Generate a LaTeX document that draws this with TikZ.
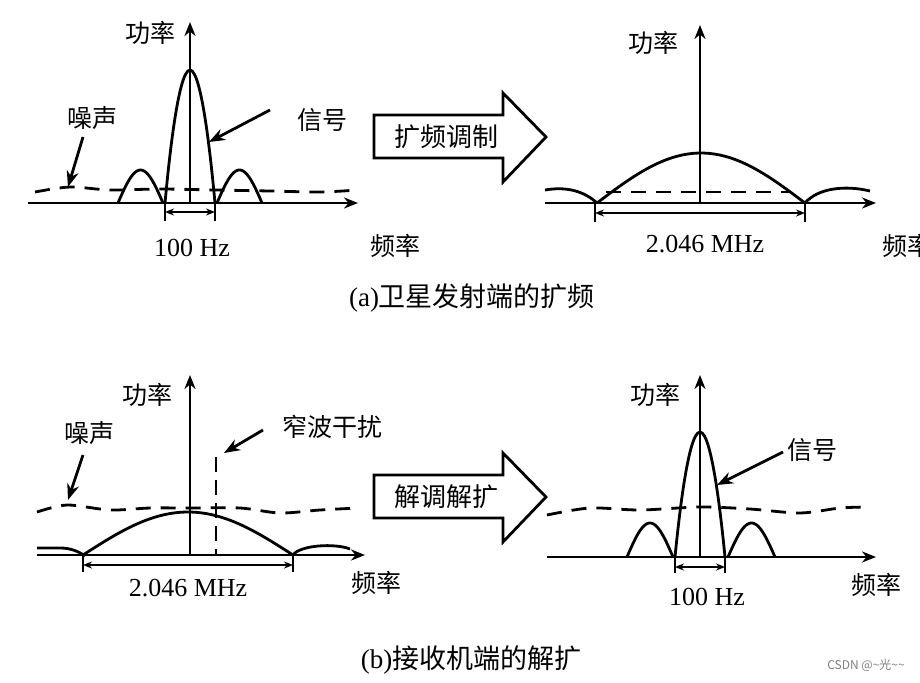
\documentclass[tikz,border=0pt]{standalone}
\usepackage{fontspec}
\setmainfont{Liberation Serif}
\newfontfamily\cjk{Noto Sans CJK SC}
\usetikzlibrary{arrows.meta}
\begin{document}
\begin{tikzpicture}[x=1pt,y=-1pt,
  axis/.style={line width=2.8pt,-{Stealth[length=14pt,width=11pt]}},
  curve/.style={line width=2.8pt},
  noise/.style={line width=2.8pt,dash pattern=on 15pt off 10pt},
  lbl/.style={font={\cjk\fontsize{25}{25}\selectfont},inner sep=0pt},
  blktxt/.style={font={\cjk\fontsize{26}{26}\selectfont},inner sep=0pt},
  num/.style={font={\fontsize{26}{26}\selectfont},inner sep=0pt},
  captxt/.style={font={\fontsize{27}{27}\selectfont},inner sep=0pt},
  ptr/.style={line width=2.8pt,-{Stealth[length=16pt,width=12pt]}},
  bw/.style={line width=1.6pt,{Stealth[length=9pt,width=7pt]}-{Stealth[length=9pt,width=7pt]}},
  tickm/.style={line width=2pt},
  blk/.style={line width=2.8pt,line join=miter},
  ]
\useasboundingbox (0,0) rectangle (920,682);
\fill[white] (0,0) rectangle (920,682);

% ================= (a) left =================
\coordinate (a1o) at (28,203); \coordinate (a1x) at (358,203);
\coordinate (a1b) at (190,203); \coordinate (a1t) at (190,22);
\draw[noise] plot[smooth] coordinates {(35,192) (70,187) (110,190) (160,189) (215,190) (270,191) (320,192) (358,190)};
\draw[axis] (a1o) -- (a1x);
\draw[axis] (a1b) -- (a1t);
\draw[curve] (165,203) parabola bend (190,70) (215,203);
\draw[curve] plot[domain=0:180,samples=30] ({118+0.25*\x},{203-33*sin(\x)});
\draw[curve] plot[domain=0:180,samples=30] ({217+0.25*\x},{203-33*sin(\x)});
\draw[tickm] (165,203) -- (165,221);
\draw[tickm] (215,203) -- (215,221);
\coordinate (a1l) at (165,212); \coordinate (a1r) at (215,212);
\draw[bw] (a1l) -- (a1r);
\node[lbl] (pw1) at (150,33) {功率};
\node[lbl] (ns1) at (92,118) {噪声};
\node[lbl] (sg1) at (322,120) {信号};
\node[num] (bwl1) at (192,248) {100 Hz};
\node[lbl] (fq1) at (395,246) {频率};
\coordinate (ns1s) at (83,137); \coordinate (ns1e) at (68,187);
\draw[ptr] (ns1s) -- (ns1e);
\coordinate (sg1s) at (270,110); \coordinate (sg1e) at (209,142);
\draw[ptr] (sg1s) -- (sg1e);

% block arrow 1
\draw[blk] (374,115) -- (503,115) -- (503,93) -- (546,137) -- (503,182) -- (503,158) -- (374,158) -- cycle;
\node[blktxt] (m1) at (446,137) {扩频调制};

% ================= (a) right =================
\coordinate (a2o) at (545,203); \coordinate (a2x) at (876,203);
\coordinate (a2b) at (700,203); \coordinate (a2t) at (700,25);
\draw[noise] (606,192) -- (790,192);
\draw[axis] (a2o) -- (a2x);
\draw[axis] (a2b) -- (a2t);
\draw[curve] plot[domain=0:180,samples=40] ({597+1.15556*\x},{203-50*sin(\x)});
\draw[curve] (545,190) .. controls (568,186) and (585,192) .. (597,203);
\draw[curve] (805,203) .. controls (818,188) and (845,185) .. (870,191);
\draw[tickm] (595,203) -- (595,222);
\draw[tickm] (805,203) -- (805,222);
\coordinate (a2l) at (595,213); \coordinate (a2r) at (805,213);
\draw[bw] (a2l) -- (a2r);
\node[lbl] (pw2) at (653,43) {功率};
\node[num] (bwl2) at (705,244) {2.046 MHz};
\node[lbl] (fq2) at (907,246) {频率};

\node[captxt] (capa) at (472,298) {(a){\cjk 卫星发射端的扩频}};

% ================= (b) left =================
\coordinate (b1o) at (37,555); \coordinate (b1x) at (365,555);
\coordinate (b1b) at (190,555); \coordinate (b1t) at (190,375);
\draw[noise] plot[smooth] coordinates {(37,512) (67,505) (110,510) (150,508) (190,508) (240,508) (280,513) (320,510) (358,508)};
\draw[axis] (b1o) -- (b1x);
\draw[axis] (b1b) -- (b1t);
\draw[curve] plot[domain=0:180,samples=40] ({83+1.16667*\x},{555-43*sin(\x)});
\draw[curve] (37,548) -- (60,548) .. controls (70,548) and (78,551) .. (85,556);
\draw[curve] (293,555) .. controls (300,545) and (335,543) .. (350,549);
\draw[line width=2.8pt,dash pattern=on 15pt off 8pt] (216,457) -- (216,555);
\draw[tickm] (83,555) -- (83,572);
\draw[tickm] (293,555) -- (293,572);
\coordinate (b1l) at (83,565); \coordinate (b1r) at (293,565);
\draw[bw] (b1l) -- (b1r);
\node[lbl] (pw3) at (147,395) {功率};
\node[lbl] (ns3) at (89,433) {噪声};
\node[lbl] (nb3) at (332,427) {窄波干扰};
\node[num] (bwl3) at (188,588) {2.046 MHz};
\node[lbl] (fq3) at (376,583) {频率};
\coordinate (ns3s) at (83,455); \coordinate (ns3e) at (68,500);
\draw[ptr] (ns3s) -- (ns3e);
\coordinate (nb3s) at (263,430); \coordinate (nb3e) at (224,453);
\draw[ptr] (nb3s) -- (nb3e);

% block arrow 2
\draw[blk] (374,475) -- (503,475) -- (503,453) -- (546,497) -- (503,542) -- (503,518) -- (374,518) -- cycle;
\node[blktxt] (m2) at (446,497) {解调解扩};

% ================= (b) right =================
\coordinate (b2o) at (547,557); \coordinate (b2x) at (876,557);
\coordinate (b2b) at (700,557); \coordinate (b2t) at (700,375);
\draw[noise] plot[smooth] coordinates {(547,515) (590,508) (640,510) (700,507) (750,509) (800,513) (840,508) (868,507)};
\draw[axis] (b2o) -- (b2x);
\draw[axis] (b2b) -- (b2t);
\draw[curve] (675,557) parabola bend (700,432) (725,557);
\draw[curve] plot[domain=0:180,samples=30] ({627+0.25556*\x},{557-34*sin(\x)});
\draw[curve] plot[domain=0:180,samples=30] ({728+0.26111*\x},{557-34*sin(\x)});
\draw[tickm] (675,557) -- (675,573);
\draw[tickm] (725,557) -- (725,573);
\coordinate (b2l) at (675,567); \coordinate (b2r) at (725,567);
\draw[bw] (b2l) -- (b2r);
\node[lbl] (pw4) at (655,395) {功率};
\node[lbl] (sg4) at (812,450) {信号};
\node[num] (bwl4) at (707,597) {100 Hz};
\node[lbl] (fq4) at (876,585) {频率};
\coordinate (sg4s) at (783,452); \coordinate (sg4e) at (717,485);
\draw[ptr] (sg4s) -- (sg4e);

\node[captxt] (capb) at (471,660) {(b){\cjk 接收机端的解扩}};
\node[font={\cjk\fontsize{12}{12}\selectfont},text=gray,inner sep=0pt] (wm) at (866,665) {CSDN @\textasciitilde 光\textasciitilde\textasciitilde};
\end{tikzpicture}
\end{document}
